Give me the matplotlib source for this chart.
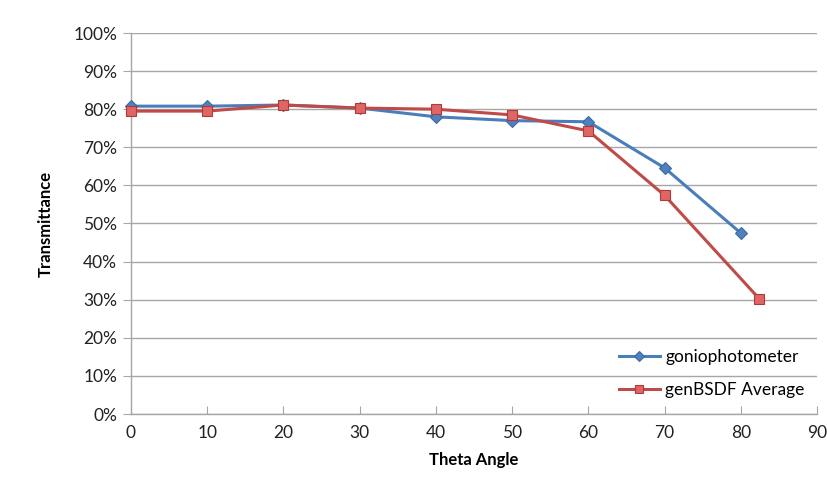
import matplotlib
matplotlib.use("Agg")
import matplotlib.pyplot as plt
from matplotlib.ticker import FuncFormatter

plt.rcParams['font.family'] = ['Lato', 'DejaVu Sans']

gonio_x = [0, 10, 20, 30, 40, 50, 60, 70, 80]
gonio_y = [0.808, 0.808, 0.811, 0.803, 0.780, 0.770, 0.767, 0.646, 0.475]
gen_x = [0, 10, 20, 30, 40, 50, 60, 70, 82.4]
gen_y = [0.795, 0.795, 0.811, 0.803, 0.800, 0.785, 0.743, 0.574, 0.303]

x_ticks = [0, 10, 20, 30, 40, 50, 60, 70, 80, 90]
y_ticks = [i / 10 for i in range(11)]

fig = plt.figure(figsize=(8.28, 4.86), dpi=100)
ax = fig.add_axes([131/828, 1 - 414/486, (817 - 131)/828, (414 - 33)/486])

blue = '#4a7ebb'
red = '#be4b48'
ax.plot(gonio_x, gonio_y, color=blue, lw=2.2, marker='D', ms=6.5,
        markerfacecolor='#4f81bd', markeredgecolor='#3a6aa8', markeredgewidth=0.8,
        label='goniophotometer', zorder=3, clip_on=False)
ax.plot(gen_x, gen_y, color=red, lw=2.2, marker='s', ms=6.5,
        markerfacecolor='#e06666', markeredgecolor='#b03a37', markeredgewidth=0.8,
        label='genBSDF Average', zorder=4, clip_on=False)

ax.set_xlim(0, 90)
ax.set_ylim(0, 1)
ax.set_xticks(x_ticks)
ax.set_yticks(y_ticks)
ax.yaxis.set_major_formatter(FuncFormatter(lambda v, p: f"{int(round(v*100))}%"))
ax.grid(axis='y', color='#a6a6a6', lw=1)
ax.set_axisbelow(True)
for s in ['top', 'right']:
    ax.spines[s].set_visible(False)
for s in ['left', 'bottom']:
    ax.spines[s].set_color('#a6a6a6')
    ax.spines[s].set_linewidth(1)
ax.tick_params(axis='y', direction='out', length=6, color='#a6a6a6', labelsize=12.5, labelcolor='#222222', pad=4)
ax.tick_params(axis='x', direction='in', length=6, color='#a6a6a6', labelsize=12.5, labelcolor='#222222', pad=8)

ax.set_xlabel('Theta Angle', fontsize=12, fontweight='bold', labelpad=8)
ax.set_ylabel('Transmittance', fontsize=12, fontweight='bold', labelpad=14)

leg = ax.legend(loc='lower right', bbox_to_anchor=(1.005, 0.0), frameon=False,
                fontsize=12.5, handlelength=2.4, labelspacing=1.0, handletextpad=0.3,
                markerscale=0.85)

fig.savefig('out.png', dpi=100)
